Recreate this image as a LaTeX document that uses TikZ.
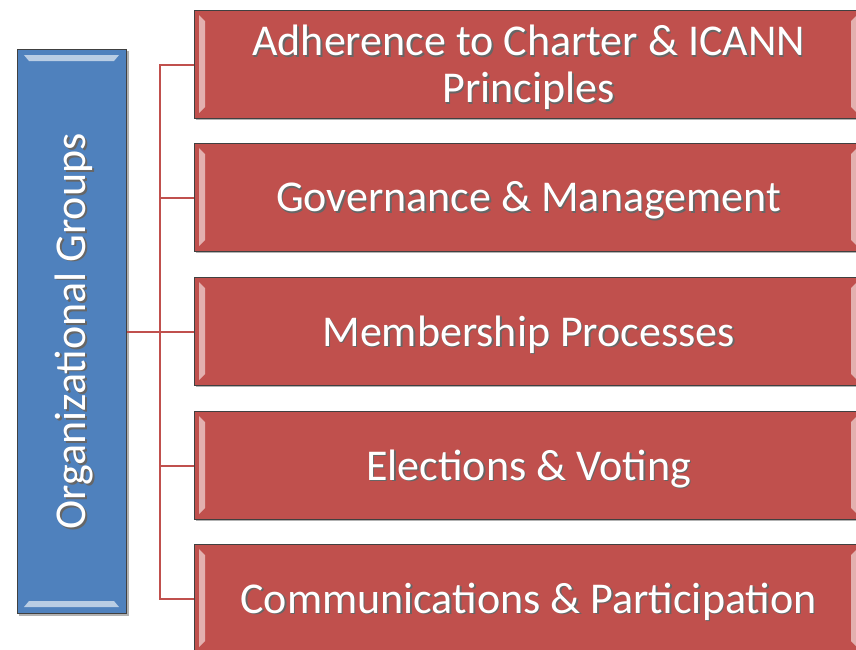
\documentclass[tikz,border=0pt]{standalone}
\usepackage{fontspec}
\setmainfont{Carlito}
\definecolor{boxred}{HTML}{C0504D}
\definecolor{boxblue}{HTML}{4F81BD}
\definecolor{linered}{HTML}{C0504D}
\begin{document}
\begin{tikzpicture}[x=1pt,y=-1pt,
  redbox/.style={draw=black!75,line width=1.2pt,fill=boxred,minimum width=668pt,minimum height=108pt,inner sep=0pt,anchor=north west},
  bluebox/.style={draw=black!75,line width=1.2pt,fill=boxblue,minimum width=109pt,minimum height=564pt,inner sep=0pt,anchor=north west},
  conn/.style={draw=linered,line width=2.2pt},
  lbl/.style={text=white,font=\fontsize{44}{47}\selectfont,align=center},
  shd/.style={text=black!60,font=\fontsize{44}{47}\selectfont,align=center}]
\useasboundingbox (0,0) rectangle (856,649);
% blue box
\fill[black!30] (19,51) rectangle (129,616);
\node[bluebox] (org) at (17,49) {};
\fill[white!60!boxblue] (24,55) -- (119,55) -- (114,61) -- (29,61) -- cycle;
\fill[white!60!boxblue] (24,607) -- (119,607) -- (114,601) -- (29,601) -- cycle;
\node[shd,rotate=90] at ([xshift=3.5pt,yshift=-1.5pt]org.center) {Organizational Groups};
\node[lbl,rotate=90] at ([xshift=2pt]org.center) {Organizational Groups};
% red boxes
\foreach \i/\y in {1/10,2/143,3/277,4/411,5/544}{
  \fill[black!30] (196,\y+2) rectangle (864,\y+110);
  \node[redbox] (b\i) at (194,\y) {};
  \fill[white!55!boxred] (199,\y+5) -- (205,\y+11) -- (205,\y+97) -- (199,\y+103) -- cycle;
  \fill[white!55!boxred] (857,\y+5) -- (851,\y+11) -- (851,\y+97) -- (857,\y+103) -- cycle;
}
\foreach \i/\t in {1/{Adherence to Charter \& ICANN\\Principles},2/{Governance \& Management},3/{Membership Processes},4/{Elections \& Voting},5/{Communications \& Participation}}{
  \node[shd] at ([xshift=1.5pt,yshift=-4.5pt]b\i.center) {\t};
  \node[lbl] at ([yshift=-3pt]b\i.center) {\t};
}
% connectors
\coordinate (bot) at (160,0 |- b5.west);
\draw[conn] (b1.west) -| (160,0 |- b1.west) -- (bot) -- (b5.west);
\draw[conn] (b2.west) -- (160,0 |- b2.west);
\draw[conn] (b4.west) -- (160,0 |- b4.west);
\draw[conn] (org.east |- b3.west) -- (b3.west);
\end{tikzpicture}
\end{document}
